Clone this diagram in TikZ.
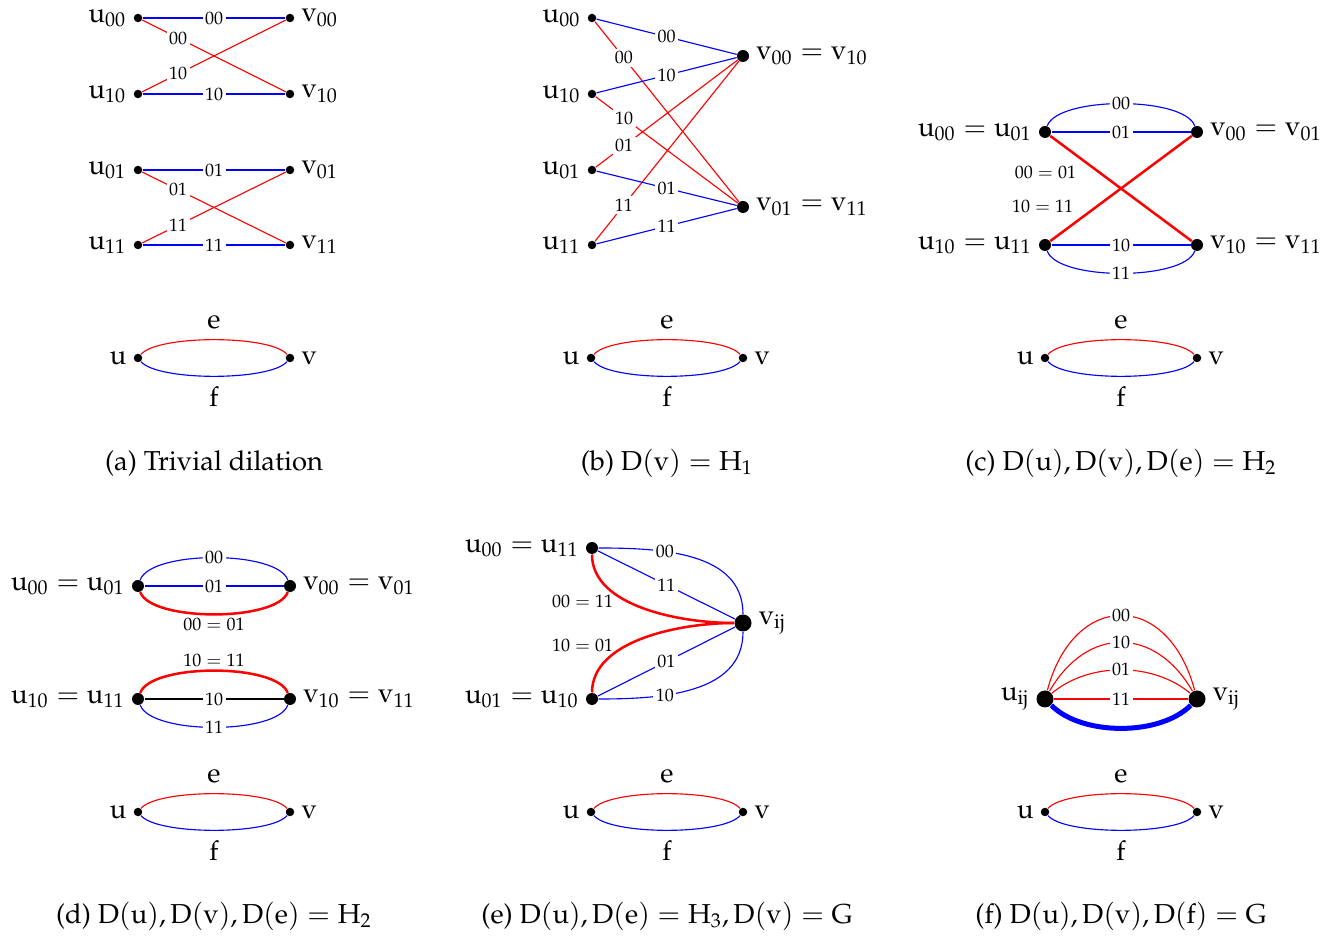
\documentclass[11pt,tikz,border=0pt]{standalone}
\usepackage[T1]{fontenc}
\usepackage{mathpazo}
\newcommand{\ru}{\mathrm{u}}
\newcommand{\rv}{\mathrm{v}}
\newcommand{\rD}{\mathrm{D}}
\tikzset{
 every label/.style={inner sep=2.5pt},
 dotS/.style={circle,fill=black,inner sep=0pt,minimum size=3.4pt},
 dotM/.style={circle,fill=black,inner sep=0pt,minimum size=4.8pt},
 dotL/.style={circle,fill=black,inner sep=0pt,minimum size=6.8pt},
 bl/.style={blue,line width=0.45pt},
 bk/.style={black,line width=0.45pt},
 rd/.style={red,line width=0.45pt},
 rdk/.style={red,line width=1pt},
 blk/.style={blue,line width=2pt},
 el/.style={fill=white,text=black,inner sep=1pt,font=\fontsize{7.2}{8}\selectfont},
 elab/.style={text=black,inner sep=1pt,font=\fontsize{7.2}{8}\selectfont},
 captext/.style={inner sep=0pt},
}
\newcommand{\uvgraph}[3]{%
 \node[dotS,label=left:$\ru$] (#1u) at (#2-76,#3) {};
 \node[dotS,label=right:$\rv$] (#1v) at (#2+76,#3) {};
 \draw[rd] (#1u) to[out=50,in=130,looseness=0.45] node[midway,above=4pt,inner sep=0pt,text=black] (#1e) {$\mathrm{e}$} (#1v);
 \draw[bl] (#1u) to[out=-50,in=-130,looseness=0.45] node[midway,below=4pt,inner sep=0pt,text=black] (#1f) {$\mathrm{f}$} (#1v);}
\begin{document}
\begin{tikzpicture}[x=0.4pt,y=0.4pt]
\useasboundingbox (0,0) rectangle (1334,-937);
% ---------- (a)
\node[dotS,label=left:$\ru_{00}$] (a1) at (138,-18) {};
\node[dotS,label=right:$\rv_{00}$] (a2) at (290,-18) {};
\node[dotS,label=left:$\ru_{10}$] (a3) at (138,-94) {};
\node[dotS,label=right:$\rv_{10}$] (a4) at (290,-94) {};
\node[dotS,label=left:$\ru_{01}$] (a5) at (138,-170) {};
\node[dotS,label=right:$\rv_{01}$] (a6) at (290,-170) {};
\node[dotS,label=left:$\ru_{11}$] (a7) at (138,-245) {};
\node[dotS,label=right:$\rv_{11}$] (a8) at (290,-245) {};
\draw[rd] (a1) -- node[el,pos=0.25] (la5) {00} (a4);
\draw[rd] (a3) -- node[el,pos=0.25] (la6) {10} (a2);
\draw[rd] (a5) -- node[el,pos=0.25] (la7) {01} (a8);
\draw[rd] (a7) -- node[el,pos=0.25] (la8) {11} (a6);
\draw[bl] (a1) -- node[el] (la1) {00} (a2);
\draw[bl] (a3) -- node[el] (la2) {10} (a4);
\draw[bl] (a5) -- node[el] (la3) {01} (a6);
\draw[bl] (a7) -- node[el] (la4) {11} (a8);
\uvgraph{ga}{214}{-358}
\node[captext] (capa) at (214,-463) {(a) Trivial dilation};
% ---------- (b)
\node[dotS,label=left:$\ru_{00}$] (b1) at (592,-18) {};
\node[dotS,label=left:$\ru_{10}$] (b2) at (592,-94) {};
\node[dotS,label=left:$\ru_{01}$] (b3) at (592,-170) {};
\node[dotS,label=left:$\ru_{11}$] (b4) at (592,-245) {};
\node[dotM,label={right:$\rv_{00} = \rv_{10}$}] (bv1) at (743,-56) {};
\node[dotM,label={right:$\rv_{01} = \rv_{11}$}] (bv2) at (743,-207) {};
\draw[rd] (b1) -- node[el,pos=0.2] (lb5) {00} (bv2);
\draw[rd] (b2) -- node[el,pos=0.2] (lb6) {10} (bv2);
\draw[rd] (b3) -- node[el,pos=0.2] (lb7) {01} (bv1);
\draw[rd] (b4) -- node[el,pos=0.2] (lb8) {11} (bv1);
\draw[bl] (b1) -- node[el] (lb1) {00} (bv1);
\draw[bl] (b2) -- node[el] (lb2) {10} (bv1);
\draw[bl] (b3) -- node[el] (lb3) {01} (bv2);
\draw[bl] (b4) -- node[el] (lb4) {11} (bv2);
\uvgraph{gb}{667}{-358}
\node[captext] (capb) at (667,-463) {(b) $\rD(\rv) = \mathrm{H}_1$};
% ---------- (c)
\node[dotM,label={left:$\ru_{00} = \ru_{01}$}] (c1) at (1045,-132) {};
\node[dotM,label={right:$\rv_{00} = \rv_{01}$}] (c2) at (1197,-132) {};
\node[dotM,label={left:$\ru_{10} = \ru_{11}$}] (c3) at (1045,-245) {};
\node[dotM,label={right:$\rv_{10} = \rv_{11}$}] (c4) at (1197,-245) {};
\draw[rdk] (c1) -- node[elab,pos=0.35,left=8pt] (lc5) {$00 = 01$} (c4);
\draw[rdk] (c3) -- node[elab,pos=0.33,left=8pt] (lc6) {$10 = 11$} (c2);
\draw[bl] (c1) to[out=70,in=110,looseness=0.55] node[el] (lc1) {00} (c2);
\draw[bl] (c1) -- node[el] (lc2) {01} (c2);
\draw[bl] (c3) -- node[el] (lc3) {10} (c4);
\draw[bl] (c3) to[out=-70,in=-110,looseness=0.55] node[el] (lc4) {11} (c4);
\uvgraph{gc}{1121}{-358}
\node[captext] (capc) at (1121,-463) {(c) $\rD(\ru), \rD(\rv), \rD(\mathrm{e}) = \mathrm{H}_2$};
% ---------- (d)
\node[dotM,label={left:$\ru_{00} = \ru_{01}$}] (d1) at (138,-586) {};
\node[dotM,label={right:$\rv_{00} = \rv_{01}$}] (d2) at (290,-586) {};
\node[dotM,label={left:$\ru_{10} = \ru_{11}$}] (d3) at (138,-699) {};
\node[dotM,label={right:$\rv_{10} = \rv_{11}$}] (d4) at (290,-699) {};
\draw[bl] (d1) to[out=70,in=110,looseness=0.55] node[el] (ld1) {00} (d2);
\draw[bl] (d1) -- node[el] (ld2) {01} (d2);
\draw[rdk] (d1) to[out=-70,in=-110,looseness=0.55] node[elab,below] (ld3) {$00 = 01$} (d2);
\draw[rdk] (d3) to[out=70,in=110,looseness=0.55] node[elab,above] (ld4) {$10 = 11$} (d4);
\draw[bk] (d3) -- node[el] (ld5) {10} (d4);
\draw[bl] (d3) to[out=-70,in=-110,looseness=0.55] node[el] (ld6) {11} (d4);
\uvgraph{gd}{214}{-812}
\node[captext] (capd) at (214,-916) {(d) $\rD(\ru), \rD(\rv), \rD(\mathrm{e}) = \mathrm{H}_2$};
% ---------- (e)
\node[dotM,label={left:$\ru_{00} = \ru_{11}$}] (e1) at (592,-548) {};
\node[dotM,label={left:$\ru_{01} = \ru_{10}$}] (e2) at (592,-699) {};
\node[dotL,label=right:$\rv_{\mathrm{ij}}$] (ev) at (743,-623) {};
\draw[rdk] (e1) to[out=-90,in=180,looseness=0.85] node[elab,pos=0.4,left=4pt] (le3) {$00 = 11$} (ev);
\draw[rdk] (e2) to[out=90,in=180,looseness=0.85] node[elab,pos=0.4,left=4pt] (le4) {$10 = 01$} (ev);
\draw[bl] (e1) to[out=0,in=90] node[el,pos=0.34] (le1) {00} (ev);
\draw[bl] (e1) -- node[el] (le2) {11} (ev);
\draw[bl] (e2) -- node[el] (le5) {01} (ev);
\draw[bl] (e2) to[out=0,in=-90] node[el,pos=0.34] (le6) {10} (ev);
\uvgraph{ge}{667}{-812}
\node[captext] (cape) at (667,-916) {(e) $\rD(\ru), \rD(\mathrm{e}) = \mathrm{H}_3, \rD(\rv) = \mathrm{G}$};
% ---------- (f)
\node[dotL,label=left:$\ru_{\mathrm{ij}}$] (f1) at (1045,-699) {};
\node[dotL,label=right:$\rv_{\mathrm{ij}}$] (f2) at (1197,-699) {};
\draw[rd] (f1) to[out=75,in=105,looseness=1.8] node[el] (lf1) {00} (f2);
\draw[rd] (f1) to[out=60,in=120,looseness=1.35] node[el] (lf2) {10} (f2);
\draw[rd] (f1) to[out=40,in=140,looseness=0.9] node[el] (lf3) {01} (f2);
\draw[rd] (f1) -- node[el] (lf4) {11} (f2);
\draw[blk] (f1) to[out=-45,in=-135,looseness=0.8] (f2);
\uvgraph{gf}{1121}{-812}
\node[captext] (capf) at (1121,-916) {(f) $\rD(\ru), \rD(\rv), \rD(\mathrm{f}) = \mathrm{G}$};
\end{tikzpicture}
\end{document}
